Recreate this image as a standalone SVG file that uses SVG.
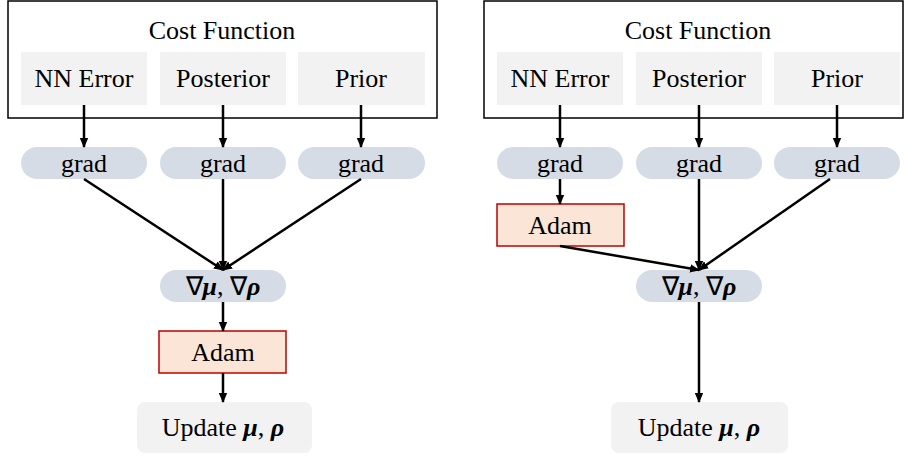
<svg xmlns="http://www.w3.org/2000/svg" width="905" height="459" viewBox="0 0 905 459" font-family="Liberation Serif, Times New Roman, serif" font-size="26">
<defs>
<marker id="ah" markerWidth="10" markerHeight="10" refX="9" refY="5" orient="auto" markerUnits="userSpaceOnUse">
<path d="M0,0.8 L10,5 L0,9.2 Z" fill="#000"/>
</marker>
<style>
text{font-family:'Liberation Serif',serif;font-size:26px;fill:#000;text-anchor:middle}
.outer{fill:#fff;stroke:#000;stroke-width:1.5}
.term{fill:#f2f2f2}
.pill{fill:#d6dce5}
.adam{fill:#fbe5d6;stroke:#c00000;stroke-width:1.5}
.upd{fill:#f2f2f2}
.c{stroke:#000;stroke-width:2.5;fill:none;marker-end:url(#ah)}
.m{font-weight:bold;font-style:italic}
</style>
</defs>
<rect width="905" height="459" fill="#fff"/>
<!-- Left panel -->
<g id="cost-left"><rect class="outer" x="8" y="1" width="429" height="117"/><text x="222" y="39">Cost Function</text></g>
<g id="nnerr-left"><rect class="term" x="21" y="52" width="126" height="53"/><text x="84" y="87">NN Error</text></g>
<g id="post-left"><rect class="term" x="160" y="52" width="126" height="53"/><text x="223" y="87">Posterior</text></g>
<g id="prior-left"><rect class="term" x="298" y="52" width="127" height="53"/><text x="361" y="87">Prior</text></g>
<g id="grad1-left"><rect class="pill" x="21" y="147" width="126" height="32" rx="16"/><text x="84" y="172">grad</text></g>
<g id="grad2-left"><rect class="pill" x="160" y="147" width="126" height="32" rx="16"/><text x="223" y="172">grad</text></g>
<g id="grad3-left"><rect class="pill" x="298" y="147" width="127" height="32" rx="16"/><text x="361" y="172">grad</text></g>
<g id="nabla-left"><rect class="pill" x="160" y="270" width="126" height="32" rx="16"/><text x="223" y="295">∇<tspan class="m">μ</tspan>, ∇<tspan class="m">ρ</tspan></text></g>
<g id="adam-left"><rect class="adam" x="159" y="331" width="127" height="42"/><text x="223" y="361">Adam</text></g>
<g id="update-left"><rect class="upd" x="137" y="402" width="175" height="51" rx="8"/><text x="223" y="436">Update <tspan class="m">μ</tspan>, <tspan class="m">ρ</tspan></text></g>
<!-- Right panel -->
<g id="cost-right"><rect class="outer" x="484" y="1" width="419" height="117"/><text x="698" y="39">Cost Function</text></g>
<g id="nnerr-right"><rect class="term" x="497" y="52" width="126" height="53"/><text x="560" y="87">NN Error</text></g>
<g id="post-right"><rect class="term" x="636" y="52" width="126" height="53"/><text x="699" y="87">Posterior</text></g>
<g id="prior-right"><rect class="term" x="774" y="52" width="126" height="53"/><text x="837" y="87">Prior</text></g>
<g id="grad1-right"><rect class="pill" x="497" y="147" width="126" height="32" rx="16"/><text x="560" y="172">grad</text></g>
<g id="grad2-right"><rect class="pill" x="636" y="147" width="126" height="32" rx="16"/><text x="699" y="172">grad</text></g>
<g id="grad3-right"><rect class="pill" x="774" y="147" width="126" height="32" rx="16"/><text x="837" y="172">grad</text></g>
<g id="adam-right"><rect class="adam" x="497" y="204" width="127" height="42"/><text x="560" y="234">Adam</text></g>
<g id="nabla-right"><rect class="pill" x="636" y="270" width="126" height="32" rx="16"/><text x="699" y="295">∇<tspan class="m">μ</tspan>, ∇<tspan class="m">ρ</tspan></text></g>
<g id="update-right"><rect class="upd" x="611" y="402" width="177" height="51" rx="8"/><text x="699" y="436">Update <tspan class="m">μ</tspan>, <tspan class="m">ρ</tspan></text></g>
<!-- Connectors -->
<g id="connectors">
<line class="c" x1="84" y1="105" x2="84" y2="147"/>
<line class="c" x1="223" y1="105" x2="223" y2="147"/>
<line class="c" x1="361" y1="105" x2="361" y2="147"/>
<line class="c" x1="84" y1="179" x2="223" y2="270"/>
<line class="c" x1="223" y1="179" x2="223" y2="270"/>
<line class="c" x1="361" y1="179" x2="223" y2="270"/>
<line class="c" x1="223" y1="302" x2="223" y2="331"/>
<line class="c" x1="223" y1="373" x2="223" y2="402"/>
<line class="c" x1="560" y1="105" x2="560" y2="147"/>
<line class="c" x1="699" y1="105" x2="699" y2="147"/>
<line class="c" x1="837" y1="105" x2="837" y2="147"/>
<line class="c" x1="560" y1="179" x2="560" y2="204"/>
<line class="c" x1="560" y1="246" x2="699" y2="270"/>
<line class="c" x1="699" y1="179" x2="699" y2="270"/>
<line class="c" x1="830" y1="179" x2="699" y2="270"/>
<line class="c" x1="699" y1="302" x2="699" y2="402"/>
</g>
</svg>
